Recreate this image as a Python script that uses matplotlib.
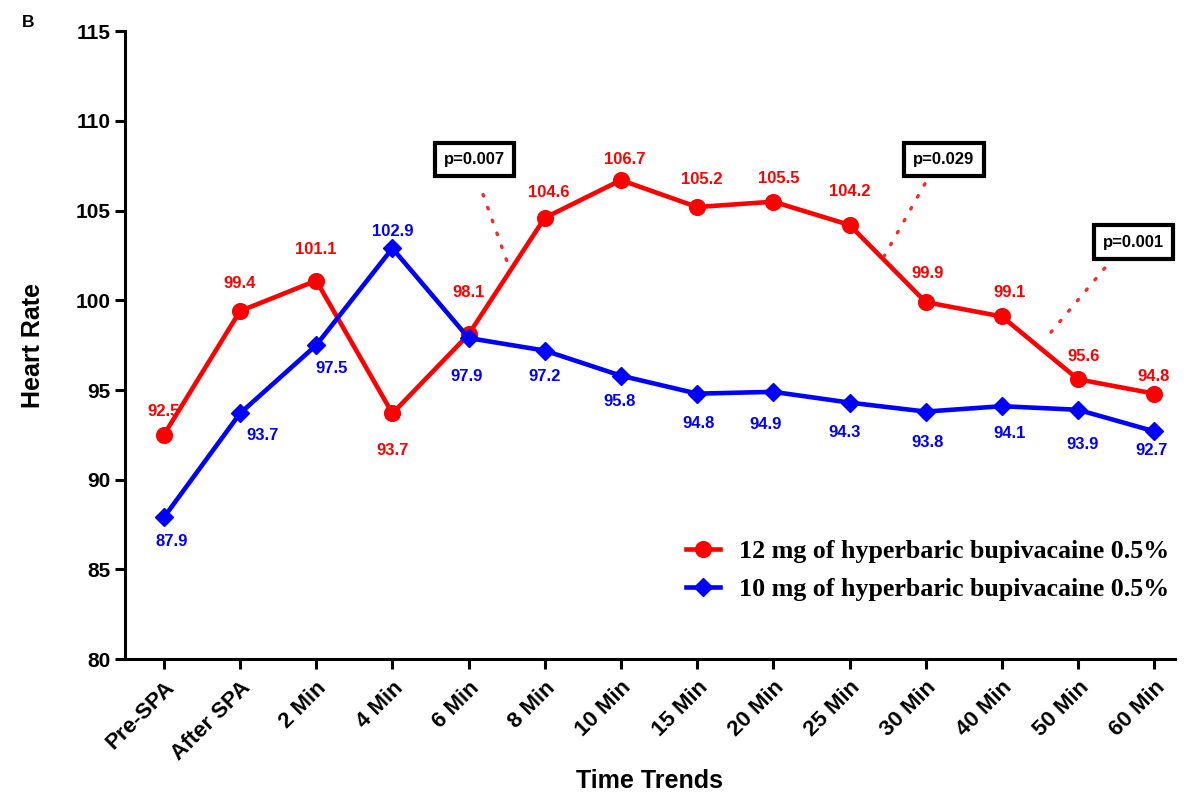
import numpy as np
import matplotlib.pyplot as plt

# heart rate over time, two dose groups
time_points = ['Pre-SPA', 'After SPA', '2 Min', '4 Min', '6 Min', '8 Min', '10 Min',
               '15 Min', '20 Min', '25 Min', '30 Min', '40 Min', '50 Min', '60 Min']
hr_12mg = [92.5, 99.4, 101.1, 93.7, 98.1, 104.6, 106.7, 105.2, 105.5, 104.2, 99.9, 99.1, 95.6, 94.8]
hr_10mg = [87.9, 93.7, 97.5, 102.9, 97.9, 97.2, 95.8, 94.8, 94.9, 94.3, 93.8, 94.1, 93.9, 92.7]
label_12 = '12 mg of hyperbaric bupivacaine 0.5%'
label_10 = '10 mg of hyperbaric bupivacaine 0.5%'

# significance callouts: text, box position, dotted line start/end
p_texts = ['p=0.007', 'p=0.029', 'p=0.001']
p_box_xy = [(4.08, 107.85), (10.24, 107.85), (12.73, 103.25)]
p_line_from = [(4.19, 105.9), (9.99, 106.5), (12.35, 101.8)]
p_line_to = [(4.51, 102.1), (9.46, 102.5), (11.56, 97.8)]

# value label offsets from each marker (pixels, +y is up)
red_off_px = [(0, 23), (0, 28), (0, 31), (0, -37), (0, 42), (4, 25), (4, 21),
              (5, 28), (5, 23), (0, 33), (2, 29), (8, 24), (5, 23), (-1, 17)]
blue_off_px = [(8, -24), (23, -22), (15, -23), (0, 17), (-2, -38), (0, -26), (-1, -26),
               (1, -30), (-8, -33), (-5, -30), (2, -31), (8, -27), (4, -35), (-3, -19)]

RED = '#ff0000'
BLUE = '#0000ff'
sans = 'Liberation Sans'
PX = 0.72  # points per pixel at dpi 100

fig = plt.figure(figsize=(12.04, 8), dpi=100)
ax = fig.add_axes([0.1038, 0.176, 0.872, 0.785])

x = np.arange(len(time_points))
ax.plot(x, hr_12mg, color=RED, lw=3.3, marker='o', ms=11.3, label=label_12, zorder=3)
ax.plot(x, hr_10mg, color=BLUE, lw=3.3, marker='D', ms=8.8, label=label_10, zorder=3)

for i in range(len(x)):
    ax.annotate(f'{hr_12mg[i]:.1f}', (x[i], hr_12mg[i]),
                xytext=(red_off_px[i][0] * PX, red_off_px[i][1] * PX),
                textcoords='offset points', ha='center', va='center',
                color=RED, fontsize=12, fontweight='bold', family=sans)
    ax.annotate(f'{hr_10mg[i]:.1f}', (x[i], hr_10mg[i]),
                xytext=(blue_off_px[i][0] * PX, blue_off_px[i][1] * PX),
                textcoords='offset points', ha='center', va='center',
                color=BLUE, fontsize=12, fontweight='bold', family=sans)

for txt, bxy, p0, p1 in zip(p_texts, p_box_xy, p_line_from, p_line_to):
    ax.text(bxy[0], bxy[1], txt, ha='center', va='center', fontsize=12,
            fontweight='bold', family=sans, zorder=5,
            bbox=dict(boxstyle='square,pad=0.55', fc='white', ec='black', lw=3))
    ax.plot([p0[0], p1[0]], [p0[1], p1[1]], color=RED, lw=2.4, ls=(0, (0.5, 3.6)),
            dash_capstyle='round', alpha=0.85, zorder=2)

ax.set_xlim(-0.51, 13.27)
ax.set_ylim(80, 115)
ax.set_xticks(x)
ax.set_xticklabels(time_points, rotation=45, ha='right', rotation_mode='anchor',
                   fontsize=16, fontweight='bold', family=sans)
ax.set_yticks(np.arange(80, 116, 5))
ax.set_yticklabels([str(v) for v in range(80, 116, 5)], fontsize=15,
                   fontweight='bold', family=sans)
ax.tick_params(axis='both', width=2.2, length=7, direction='out')
ax.tick_params(axis='x', pad=6)

for side in ['top', 'right']:
    ax.spines[side].set_visible(False)
for side in ['left', 'bottom']:
    ax.spines[side].set_linewidth(2.2)

ax.set_xlabel('Time Trends', fontsize=18, fontweight='bold', family=sans, labelpad=3)
ax.set_ylabel('Heart Rate', fontsize=18, fontweight='bold', family=sans, labelpad=22)

ax.legend(loc='lower right', bbox_to_anchor=(0.980, 0.236), bbox_transform=fig.transFigure,
          borderaxespad=0, frameon=False,
          prop={'family': 'Liberation Serif', 'weight': 'bold', 'size': 18.7},
          handlelength=1.3, labelspacing=0.55, handletextpad=0.75)

fig.text(0.018, 0.972, 'B', fontsize=12.5, fontweight='bold', family=sans, va='center')

fig.savefig('out.png', dpi=100)
